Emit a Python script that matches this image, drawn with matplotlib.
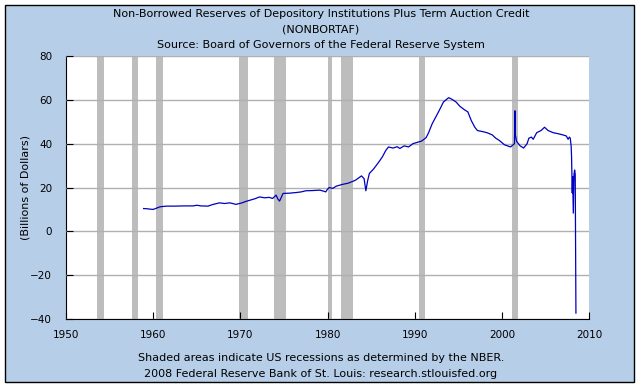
import matplotlib
matplotlib.use("Agg")
import matplotlib.pyplot as plt
from matplotlib.patches import Rectangle

# NONBORTAF, billions of dollars
years = [1958.9, 1959.3, 1959.7, 1960.0, 1960.4, 1960.8, 1961.5, 1962.5, 1963.5, 1964.6,
         1965.0, 1965.5, 1966.3, 1966.8, 1967.6, 1968.2, 1968.8, 1969.5, 1970.2, 1970.6,
         1971.1, 1971.7, 1972.2, 1972.8, 1973.3, 1973.7, 1974.1, 1974.3, 1974.5, 1974.7,
         1974.9, 1975.6, 1976.4, 1977.0, 1977.5, 1978.3, 1979.1, 1979.5, 1979.8, 1980.0,
         1980.2, 1980.6, 1981.0, 1981.7, 1982.4, 1983.2, 1983.9, 1984.2, 1984.4, 1984.6,
         1984.8, 1985.3, 1985.9, 1986.3, 1986.7, 1987.0, 1987.5, 1988.0, 1988.3, 1988.8,
         1989.3, 1989.8, 1990.3, 1990.8, 1991.3, 1991.6, 1992.0, 1992.4, 1992.8, 1993.3,
         1993.9, 1994.3, 1994.75, 1995.2, 1995.7, 1996.1, 1996.5, 1996.9, 1997.2, 1997.8,
         1998.3, 1998.9, 1999.3, 1999.7, 2000.3, 2001.0, 2001.3, 2001.45, 2001.5, 2001.55,
         2001.7, 2002.1, 2002.5, 2002.9, 2003.1, 2003.4, 2003.6, 2004.0, 2004.5, 2004.9,
         2005.3, 2005.9, 2006.5, 2007.0, 2007.4, 2007.6, 2007.75, 2007.85, 2007.95, 2008.0,
         2008.08, 2008.12, 2008.2, 2008.28, 2008.35, 2008.42, 2008.5]
values = [10.4, 10.3, 10.1, 10.0, 10.6, 11.2, 11.5, 11.5, 11.6, 11.6,
          11.9, 11.6, 11.5, 12.2, 13.0, 12.7, 13.0, 12.3, 13.0, 13.6,
          14.2, 14.9, 15.7, 15.3, 15.5, 15.0, 16.5, 14.8, 13.8, 15.5,
          17.3, 17.4, 17.7, 18.0, 18.5, 18.6, 18.8, 18.4, 18.0, 19.2,
          20.0, 19.6, 20.6, 21.4, 22.0, 23.3, 25.3, 24.0, 18.5, 23.0,
          26.4, 28.5, 31.7, 34.0, 37.0, 38.5, 38.0, 38.6, 37.8, 39.0,
          38.5, 40.0, 40.6, 41.2, 42.7, 45.0, 49.0, 52.0, 55.0, 59.0,
          61.0, 60.2, 59.0, 57.0, 55.5, 54.5, 50.5, 47.5, 46.0, 45.5,
          45.0, 44.0, 42.5, 41.5, 39.5, 38.5, 39.5, 40.0, 55.0, 44.0,
          41.0, 39.0, 38.0, 40.0, 42.5, 43.0, 42.0, 45.0, 46.0, 47.5,
          46.0, 45.0, 44.5, 44.0, 43.5, 42.0, 43.0, 42.5, 39.0, 34.0,
          17.5, 25.0, 8.3, 26.0, 28.0, 26.0, -37.3]

# NBER recessions (start, end)
recessions = [(1953.6, 1954.4), (1957.6, 1958.3), (1960.3, 1961.1), (1969.9, 1970.9),
              (1973.9, 1975.2), (1980.0, 1980.5), (1981.5, 1982.9), (1990.5, 1991.2),
              (2001.2, 2001.9)]

W, H = 642, 392
fig = plt.figure(figsize=(W / 100, H / 100), dpi=100)
fig.patch.set_facecolor("white")
fig.patches.append(Rectangle((5 / W, 10 / H), 629 / W, 377 / H, transform=fig.transFigure,
                             facecolor="#b6cee7", edgecolor="black", linewidth=1, zorder=-5))

ax = fig.add_axes([66 / W, (H - 319) / H, 523 / W, 263 / H])
ax.set_facecolor("white")

for s, e in recessions:
    ax.axvspan(s, e, color="#bdbdbd", lw=0, zorder=1)

ax.plot(years, values, color="#0000c0", lw=0.9, zorder=3)

ax.set_xlim(1950, 2010)
ax.set_ylim(-40, 80)
ax.set_xticks(range(1950, 2011, 10))
ax.set_yticks(range(-40, 81, 20))
ax.yaxis.grid(True, color="#b0b0b0", lw=1, zorder=2)
ax.set_axisbelow(False)
for sp in ("top", "right"):
    ax.spines[sp].set_visible(False)
ax.tick_params(direction="in", length=5, labelsize=7.5, pad=8, colors="black")
ax.tick_params(axis="y", pad=10)
ax.set_ylabel("(Billions of Dollars)", fontsize=8)
ax.yaxis.set_label_coords(-0.068, 0.5)

fs = 8
fig.text(0.5, (H - 14) / H, "Non-Borrowed Reserves of Depository Institutions Plus Term Auction Credit",
         ha="center", va="center", fontsize=fs)
fig.text(0.5, (H - 30) / H, "(NONBORTAF)", ha="center", va="center", fontsize=fs)
fig.text(0.5, (H - 45) / H, "Source: Board of Governors of the Federal Reserve System",
         ha="center", va="center", fontsize=fs)
fig.text(0.5, (H - 358) / H, "Shaded areas indicate US recessions as determined by the NBER.",
         ha="center", va="center", fontsize=fs)
fig.text(0.5, (H - 374) / H, "2008 Federal Reserve Bank of St. Louis: research.stlouisfed.org",
         ha="center", va="center", fontsize=fs)

fig.savefig("out.png", dpi=100)
